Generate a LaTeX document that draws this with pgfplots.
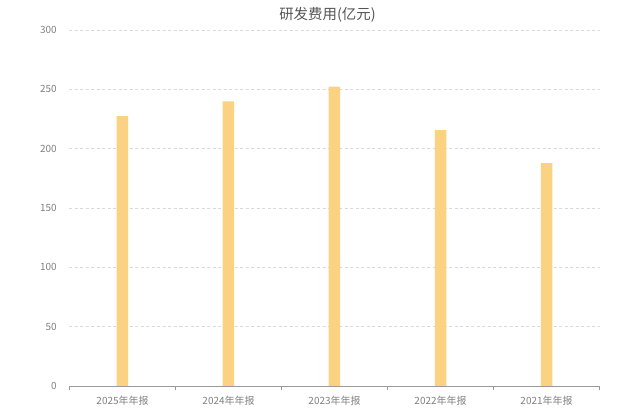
\documentclass[border=0pt]{standalone}
\usepackage{fontspec}
\setmainfont{Noto Sans CJK SC}
\usepackage{pgfplots}
\pgfplotsset{compat=1.18}

\definecolor{barcol}{HTML}{FAD282}
\definecolor{gridcol}{HTML}{DADADA}
\definecolor{axiscol}{HTML}{9A9A9A}
\definecolor{labcol}{HTML}{808080}
\definecolor{titlecol}{HTML}{555555}

\begin{document}
\begin{tikzpicture}
\path[use as bounding box] (-69.5bp,-23bp) rectangle (570.5bp,386bp);
\begin{axis}[
    at={(0,0)}, anchor=south west,
    scale only axis,
    width=530bp, height=356bp,
    xmin=-0.5, xmax=4.5,
    ymin=0, ymax=300,
    ytick={0,50,100,150,200,250,300},
    xtick={0,1,2,3,4},
    xticklabels={2025年年报,2024年年报,2023年年报,2022年年报,2021年年报},
    minor xtick={-0.5,0.5,1.5,2.5,3.5,4.5},
    major x tick style={draw=none},
    minor x tick style={draw=axiscol, line width=0.6bp},
    minor tick length=4bp,
    tick align=outside,
    axis x line*=bottom,
    axis y line*=left,
    x axis line style={draw=axiscol, line width=0.8bp, -},
    y axis line style={draw=none},
    ytick style={draw=none},
    ymajorgrids=true,
    grid style={draw=gridcol, dash pattern=on 3bp off 2.5bp, line width=0.7bp},
    /pgf/number format/assume math mode=true,
    tick label style={font=\fontsize{10}{12}\selectfont, text=labcol},
    yticklabel style={xshift=-5bp},
    xticklabel style={yshift=-2bp},
    title={研发费用(亿元)},
    title style={font=\fontsize{14.5}{16}\selectfont, text=titlecol, anchor=center, at={(0.5,1)}, yshift=9bp, xshift=-7bp},
]
\addplot[ybar, bar width=11.5bp, fill=barcol, draw=none] coordinates {
    (0,227.5) (1,239.9) (2,252.3) (3,215.6) (4,187.9)
};
\end{axis}
\end{tikzpicture}
\end{document}
